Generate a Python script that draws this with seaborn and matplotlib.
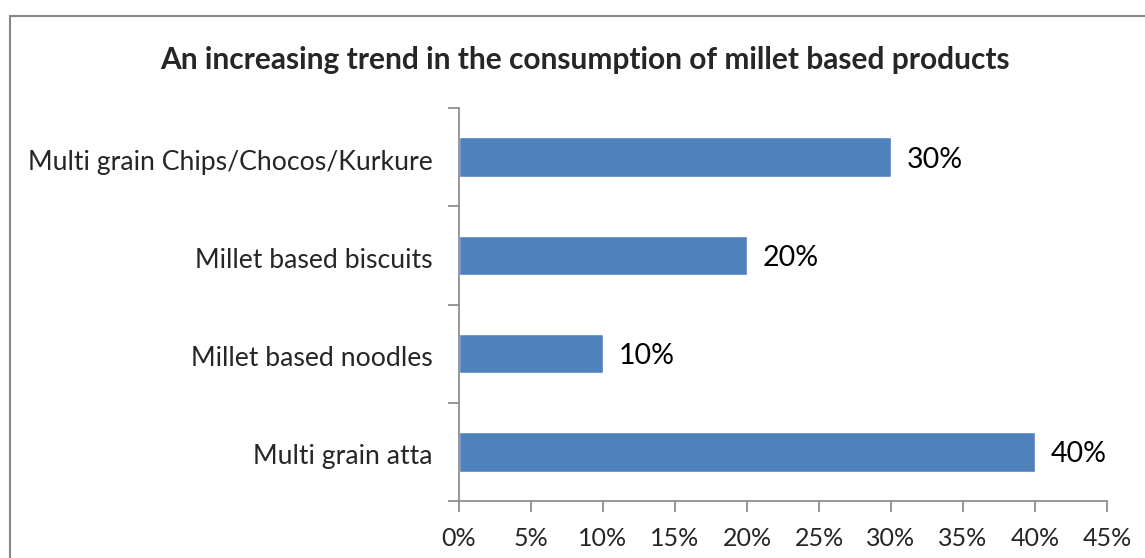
import pandas as pd
import seaborn as sns
import matplotlib.pyplot as plt
from matplotlib.patches import Rectangle
from matplotlib.ticker import FixedLocator, PercentFormatter
from matplotlib.transforms import ScaledTranslation

categories = ['Multi grain Chips/Chocos/Kurkure', 'Millet based biscuits',
              'Millet based noodles', 'Multi grain atta']
values = [30, 20, 10, 40]
x_ticks = [0, 5, 10, 15, 20, 25, 30, 35, 40, 45]
title = 'An increasing trend in the consumption of millet based products'

sns.set_style("white")
plt.rcParams['font.family'] = ['Lato', 'DejaVu Sans']

df = pd.DataFrame({'category': categories, 'value': values})

fig = plt.figure(figsize=(11.45, 5.58), dpi=100)
ax = fig.add_axes([459 / 1145, 1 - 501 / 558, 648 / 1145, 393 / 558])

sns.barplot(data=df, x='value', y='category', order=categories, color='#4F81BD',
            saturation=1, width=0.4, ax=ax)

# small downward nudge so text sits like the Calibri original
nudge = ScaledTranslation(0, -2.5 / 100, fig.dpi_scale_trans)

for i, v in enumerate(values):
    ax.text(v + 1.1, i, f'{v}%', va='center', ha='left', fontsize=20.5, color='black',
            transform=ax.transData + nudge)

ax.set_xlim(0, 45)
ax.set_ylim(3.5, -0.5)
ax.set_xticks(x_ticks)
ax.xaxis.set_major_formatter(PercentFormatter(decimals=0))
ax.yaxis.set_minor_locator(FixedLocator([-0.5, 0.5, 1.5, 2.5, 3.5]))
ax.tick_params(axis='y', which='major', length=0, pad=19, labelsize=19.2)
ax.tick_params(axis='y', which='minor', length=8, width=1.2, color='#868686', left=True)
ax.tick_params(axis='x', which='major', length=8, width=1.2, color='#868686',
               bottom=True, pad=10.5, labelsize=18)
for lbl in ax.get_yticklabels():
    lbl.set_transform(lbl.get_transform() + nudge)
ax.set_xlabel('')
ax.set_ylabel('')

for side in ['top', 'right']:
    ax.spines[side].set_visible(False)
for side in ['left', 'bottom']:
    ax.spines[side].set_color('#868686')
    ax.spines[side].set_linewidth(1.2)

fig.text(585 / 1145, 1 - 60 / 558, title, ha='center', va='center',
         fontsize=21.5, fontweight='bold')

fig.patches.append(Rectangle((9.5 / 1145, -0.05), 1.1, 1 - 15.5 / 558 + 0.05,
                             transform=fig.transFigure, fill=False,
                             edgecolor='#868686', linewidth=1.5))

fig.savefig('out.png', dpi=100)
